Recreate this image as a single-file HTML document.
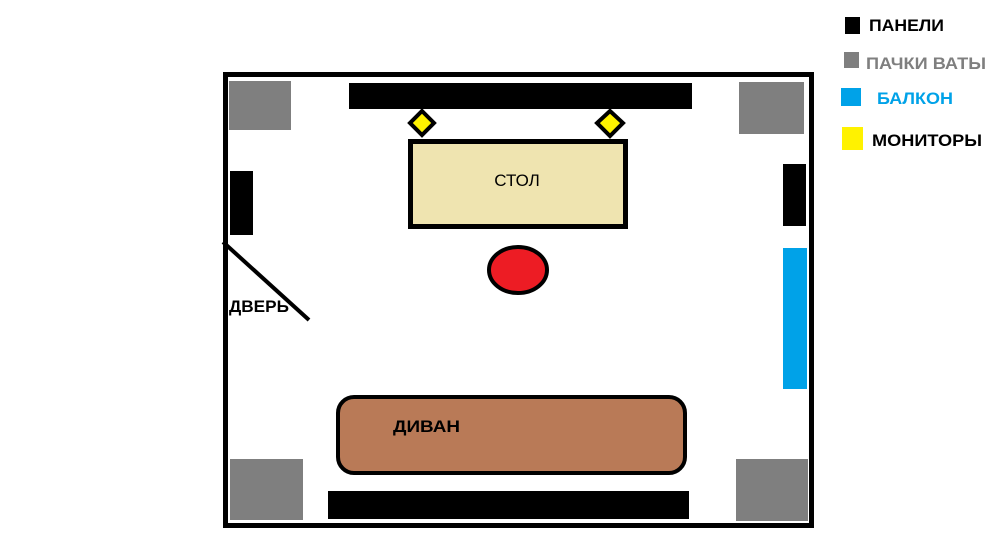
<!DOCTYPE html>
<html><head><meta charset="utf-8"><style>body{margin:0;background:#fff}svg{display:block}</style></head><body>
<svg width="1004" height="539" xmlns="http://www.w3.org/2000/svg" font-family="Liberation Sans, sans-serif">
<rect x="0" y="0" width="1004" height="539" fill="#fff"/>
<rect x="225.5" y="74.5" width="586" height="451" fill="none" stroke="#000" stroke-width="5"/>
<rect x="229" y="81" width="62" height="49" fill="#7f7f7f"/>
<rect x="739" y="82" width="65" height="52" fill="#7f7f7f"/>
<rect x="230" y="459" width="73" height="61" fill="#7f7f7f"/>
<rect x="736" y="459" width="72" height="62" fill="#7f7f7f"/>
<rect x="349" y="83" width="343" height="26" fill="#000"/>
<rect x="328" y="491" width="361" height="28" fill="#000"/>
<rect x="230" y="171" width="23" height="64" fill="#000"/>
<rect x="783" y="164" width="23" height="62" fill="#000"/>
<rect x="783" y="248" width="24" height="141" fill="#00a2e8"/>
<rect x="410.5" y="141.5" width="215" height="85" fill="#efe4b0" stroke="#000" stroke-width="5"/>
<text x="517" y="186" font-size="17" text-anchor="middle">СТОЛ</text>
<polygon points="422,111 434,123 422,135 410,123" fill="#fff200" stroke="#000" stroke-width="4"/>
<polygon points="610,111 623,123 610,136 597,123" fill="#fff200" stroke="#000" stroke-width="4"/>
<ellipse cx="518" cy="270" rx="29" ry="23" fill="#ed1c24" stroke="#000" stroke-width="4"/>
<line x1="223" y1="242" x2="309" y2="320" stroke="#000" stroke-width="4"/>
<text x="229" y="312" font-size="17" font-weight="bold" textLength="60" lengthAdjust="spacingAndGlyphs">ДВЕРЬ</text>
<rect x="338" y="397" width="347" height="76" rx="16" fill="#b97a57" stroke="#000" stroke-width="4"/>
<text x="393" y="432" font-size="17" font-weight="bold" textLength="67" lengthAdjust="spacingAndGlyphs">ДИВАН</text>
<rect x="845" y="17" width="15" height="17" fill="#000"/>
<text x="869" y="31" font-size="17" font-weight="bold" textLength="75" lengthAdjust="spacingAndGlyphs">ПАНЕЛИ</text>
<rect x="844" y="52" width="15" height="16" fill="#7f7f7f"/>
<text x="866" y="69" font-size="17" font-weight="bold" fill="#7f7f7f" textLength="120" lengthAdjust="spacingAndGlyphs">ПАЧКИ ВАТЫ</text>
<rect x="841" y="88" width="20" height="18" fill="#00a2e8"/>
<text x="877" y="104" font-size="17" font-weight="bold" fill="#00a2e8" textLength="76" lengthAdjust="spacingAndGlyphs">БАЛКОН</text>
<rect x="842" y="127" width="21" height="23" fill="#fff200"/>
<text x="872" y="146" font-size="17" font-weight="bold" textLength="110" lengthAdjust="spacingAndGlyphs">МОНИТОРЫ</text>
</svg>
</body></html>
